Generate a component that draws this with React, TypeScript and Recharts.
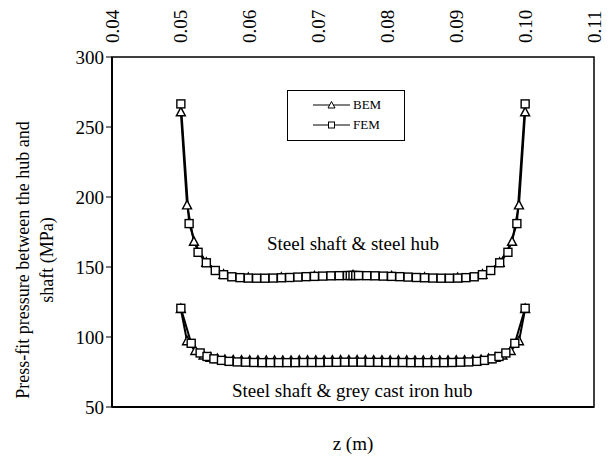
import { LineChart, Line, XAxis, YAxis, Legend, ReferenceArea, ReferenceDot } from "recharts";

const font = "'Liberation Serif', 'Times New Roman', serif";

const zTicks = [0.04, 0.05, 0.06, 0.07, 0.08, 0.09, 0.1, 0.11];
const zTickLabels = ["0.04", "0.05", "0.06", "0.07", "0.08", "0.09", "0.10", "0.11"];
const pTicks = [50, 100, 150, 200, 250, 300];

// steel shaft & steel hub
const steelFemZ = [0.05, 0.0512, 0.0525, 0.0537, 0.055, 0.0562, 0.0574, 0.0586, 0.0598, 0.061, 0.0622, 0.0634, 0.0646, 0.0658, 0.067, 0.0682, 0.0694, 0.0706, 0.0718, 0.073, 0.0742, 0.0746, 0.075, 0.0754, 0.0758, 0.077, 0.0782, 0.0794, 0.0806, 0.0818, 0.083, 0.0842, 0.0854, 0.0866, 0.0878, 0.089, 0.0902, 0.0914, 0.0926, 0.0938, 0.095, 0.0963, 0.0975, 0.0988, 0.1];
const steelFemP = [266.5, 181, 160.5, 153, 147.5, 144.5, 143, 142.4, 142.1, 142.0, 142.0, 142.1, 142.3, 142.5, 142.8, 143.1, 143.3, 143.5, 143.7, 143.8, 143.9, 143.9, 144.0, 143.9, 143.9, 143.8, 143.7, 143.5, 143.3, 143.1, 142.8, 142.5, 142.3, 142.1, 142.0, 142.0, 142.1, 142.4, 143.0, 144.5, 147.5, 153, 160.5, 181, 266.5];
const steelBemZ = [0.05, 0.0509, 0.0519, 0.0537, 0.0562, 0.0598, 0.0646, 0.0694, 0.075, 0.0806, 0.0854, 0.0902, 0.0938, 0.0963, 0.0981, 0.0991, 0.1];
const steelBemP = [260.5, 194, 168, 153, 144.5, 142.1, 142.3, 143.3, 144.0, 143.3, 142.3, 142.1, 144.5, 153, 168, 194, 260.5];

// steel shaft & grey cast iron hub
const ironFemZ = [0.05, 0.0515, 0.0528, 0.0538, 0.0548, 0.0559, 0.057, 0.0582, 0.0594, 0.0606, 0.0618, 0.063, 0.0642, 0.0654, 0.0666, 0.0678, 0.069, 0.0702, 0.0714, 0.0726, 0.0738, 0.075, 0.0762, 0.0774, 0.0786, 0.0798, 0.081, 0.0822, 0.0834, 0.0846, 0.0858, 0.087, 0.0882, 0.0894, 0.0906, 0.0918, 0.093, 0.0941, 0.0952, 0.0962, 0.0972, 0.0985, 0.1];
const ironFemP = [120.5, 95.5, 88.6, 86.1, 84.4, 83.3, 82.6, 82.2, 82.0, 81.8, 81.7, 81.7, 81.7, 81.7, 81.7, 81.8, 81.8, 81.8, 81.9, 81.9, 82.0, 82.0, 82.0, 81.9, 81.9, 81.8, 81.8, 81.8, 81.7, 81.7, 81.7, 81.7, 81.7, 81.8, 82.0, 82.2, 82.6, 83.3, 84.4, 86.1, 88.6, 95.5, 120.5];
const ironBemZ = [0.05, 0.0509, 0.0521, 0.0533, 0.0543, 0.0553, 0.0564, 0.0576, 0.0588, 0.06, 0.0612, 0.0624, 0.0636, 0.0648, 0.066, 0.0672, 0.0684, 0.0696, 0.0708, 0.072, 0.0732, 0.0744, 0.0756, 0.0768, 0.078, 0.0792, 0.0804, 0.0816, 0.0828, 0.084, 0.0852, 0.0864, 0.0876, 0.0888, 0.09, 0.0912, 0.0924, 0.0936, 0.0947, 0.0957, 0.0967, 0.0979, 0.0991, 0.1];
const ironBemP = [120, 97, 90, 86.8, 85.2, 84.2, 83.6, 83.3, 83.1, 83.0, 83.0, 82.9, 82.9, 82.9, 82.9, 83.0, 83.0, 83.0, 83.1, 83.1, 83.2, 83.2, 83.2, 83.2, 83.1, 83.1, 83.0, 83.0, 83.0, 82.9, 82.9, 82.9, 82.9, 83.0, 83.0, 83.1, 83.3, 83.6, 84.2, 85.2, 86.8, 90, 97, 120];

const curveLabels = ["Steel shaft & steel hub", "Steel shaft & grey cast iron hub"];
const curveLabelZ = [0.075, 0.0749];
const curveLabelP = [167, 62];

const zip = (z: number[], p: number[]) => z.map((v, i) => ({ z: v, p: p[i] }));

const square = (props: any) => {
  const { cx, cy, index } = props;
  if (cx == null || cy == null) return <g key={index} />;
  return <rect key={index} x={cx - 4} y={cy - 4} width={8} height={8} fill="#fff" stroke="#000" strokeWidth={1.4} />;
};

const triangle = (props: any) => {
  const { cx, cy, index } = props;
  if (cx == null || cy == null) return <g key={index} />;
  return (
    <polygon
      key={index}
      points={`${cx},${cy - 5} ${cx + 4.5},${cy + 3.5} ${cx - 4.5},${cy + 3.5}`}
      fill="#fff"
      stroke="#000"
      strokeWidth={1.4}
    />
  );
};

const TopTick = (props: any) => {
  const { x, y, index } = props;
  const by = y - 6;
  return (
    <text
      x={x}
      y={by}
      dy="0.35em"
      transform={`rotate(-90 ${x} ${by})`}
      textAnchor="start"
      fontFamily={font}
      fontSize={19}
      fill="#000"
    >
      {zTickLabels[index]}
    </text>
  );
};

const YTitle = (props: any) => {
  const vb = props.viewBox || {};
  // centre of the plot height, nudged to sit where the original title sits
  const cy = vb.y + vb.height / 2 + 28;
  const x1 = vb.x + 11;
  const x2 = vb.x + 35;
  return (
    <g fontFamily={font} fontSize={18} fill="#000">
      <text x={x1} y={cy} transform={`rotate(-90 ${x1} ${cy})`} textAnchor="middle" dominantBaseline="central">
        Press-fit pressure between the hub and
      </text>
      <text x={x2} y={cy} transform={`rotate(-90 ${x2} ${cy})`} textAnchor="middle" dominantBaseline="central">
        shaft (MPa)
      </text>
    </g>
  );
};

const XTitle = (props: any) => {
  const vb = props.viewBox || {};
  return (
    <text x={vb.x + vb.width / 2} y={vb.y + 36} textAnchor="middle" dominantBaseline="central" fontFamily={font} fontSize={19} fill="#000">
      z (m)
    </text>
  );
};

const LegendBox = (props: any) => {
  const items = (props.payload || []).filter((e: any) => e.type !== "none");
  return (
    <div style={{ paddingTop: 4 }}>
      {items.map((e: any) => (
        <div key={e.value} style={{ display: "flex", alignItems: "center", height: 20, paddingLeft: 25 }}>
          <svg width={37} height={12}>
            <line x1={0} y1={6} x2={37} y2={6} stroke="#000" strokeWidth={1.2} />
            {e.value === "BEM" ? (
              <polygon points="18.5,2.5 22,9 15,9" fill="#fff" stroke="#000" strokeWidth={1} />
            ) : (
              <rect x={15.5} y={3} width={6} height={6} fill="#fff" stroke="#000" strokeWidth={1} />
            )}
          </svg>
          <span style={{ fontFamily: font, fontSize: 13, marginLeft: 3, color: "#000" }}>{e.value}</span>
        </div>
      ))}
    </div>
  );
};

export default function App() {
  return (
    <div style={{ position: "absolute", left: 0, top: 0, background: "#fff" }}>
      <LineChart width={612} height={457} margin={{ top: 12, right: 18, bottom: 20, left: 12 }}>
        <XAxis
          xAxisId="bottom"
          dataKey="z"
          type="number"
          domain={[0.04, 0.11]}
          ticks={zTicks}
          tick={false}
          tickSize={6}
          height={30}
          allowDataOverflow
          axisLine={{ stroke: "#000", strokeWidth: 2 }}
          tickLine={{ stroke: "#000", strokeWidth: 1 }}
          label={<XTitle />}
        />
        <XAxis
          xAxisId="top"
          orientation="top"
          dataKey="z"
          type="number"
          domain={[0.04, 0.11]}
          ticks={zTicks}
          height={45}
          allowDataOverflow
          axisLine={false}
          tickLine={false}
          tick={<TopTick />}
        />
        <YAxis
          dataKey="p"
          type="number"
          domain={[50, 300]}
          ticks={pTicks}
          width={100}
          tickSize={6}
          allowDataOverflow
          axisLine={{ stroke: "#000", strokeWidth: 2 }}
          tickLine={{ stroke: "#000", strokeWidth: 1 }}
          tick={{ fill: "#000", fontSize: 19, fontFamily: font }}
          label={<YTitle />}
        />
        <ReferenceArea xAxisId="bottom" x1={0.04} x2={0.11} y1={50} y2={300} fill="none" stroke="#000" strokeWidth={1.5} />
        {curveLabels.map((t, i) => (
          <ReferenceDot
            key={t}
            xAxisId="bottom"
            x={curveLabelZ[i]}
            y={curveLabelP[i]}
            r={0}
            stroke="none"
            label={{ value: t, position: "center", fill: "#000", fontSize: 19, fontFamily: font }}
          />
        ))}
        <Line xAxisId="bottom" name="BEM" data={zip(steelBemZ, steelBemP)} dataKey="p" stroke="#000" strokeWidth={2} dot={triangle} isAnimationActive={false} />
        <Line xAxisId="bottom" name="FEM" data={zip(steelFemZ, steelFemP)} dataKey="p" stroke="#000" strokeWidth={2} dot={square} isAnimationActive={false} />
        <Line xAxisId="bottom" name="BEM2" legendType="none" data={zip(ironBemZ, ironBemP)} dataKey="p" stroke="#000" strokeWidth={2} dot={triangle} isAnimationActive={false} />
        <Line xAxisId="bottom" name="FEM2" legendType="none" data={zip(ironFemZ, ironFemP)} dataKey="p" stroke="#000" strokeWidth={2} dot={square} isAnimationActive={false} />
        <Legend
          layout="vertical"
          align="center"
          verticalAlign="middle"
          content={<LegendBox />}
          wrapperStyle={{ left: 287, top: 90, width: 118, height: 51, border: "1px solid #000", background: "#fff", boxSizing: "border-box" }}
        />
      </LineChart>
    </div>
  );
}
